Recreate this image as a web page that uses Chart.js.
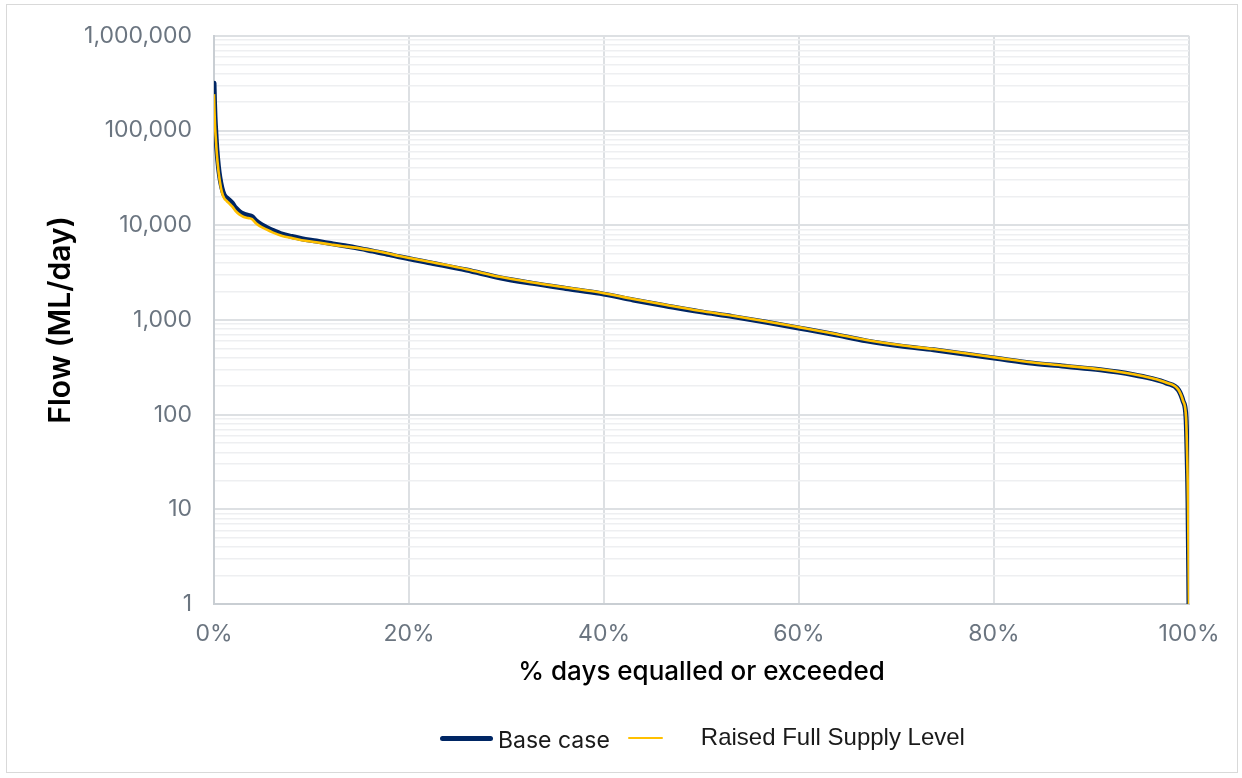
<!DOCTYPE html>
<html>
<head>
<meta charset="utf-8">
<script src="https://cdn.jsdelivr.net/npm/chart.js@4/dist/chart.umd.min.js"></script>
<style>
  html, body { margin: 0; padding: 0; background: #ffffff; }
  #wrap { position: relative; width: 1242px; height: 778px; overflow: hidden; }
  #frame { position: absolute; left: 6px; top: 4px; width: 1232px; height: 769px;
           border: 1.5px solid #d9d9d9; box-sizing: border-box; }
  #chart { position: absolute; left: 0; top: 0; }
  #legend { position: absolute; top: 724px; left: 440px; display: flex; align-items: center;
            font-family: Inter, "Liberation Sans", sans-serif; color: #1a1a1a; white-space: nowrap; }
  .item { display: flex; align-items: center; }
  .swatch { border-radius: 3px; }
</style>
</head>
<body>
<div id="wrap">
  <div id="frame"></div>
  <canvas id="chart" width="1242" height="778"></canvas>
  <div id="legend"></div>
</div>
<script>
// Flow duration curve: % of days a flow is equalled or exceeded
const pctDays = [0, 0.05, 0.1, 0.2, 0.3, 0.45, 0.6, 0.8, 1.05, 1.3, 1.6, 1.9, 2.2, 2.6, 3.0, 3.5, 3.9, 4.3, 4.7, 5.3,
  6.0, 7.0, 8.0, 9.0, 10.5, 12.0, 13.2, 14.5, 16.3, 18.0, 19.0, 22.5, 25.9, 29.3, 32.7, 36.1, 39.6, 43.0, 46.4, 49.8,
  53.2, 56.7, 60.1, 63.5, 66.9, 70.3, 73.8, 77.2, 80.6, 84.0, 87.5, 90.9, 94.3, 96.0, 97.7, 98.9, 99.4, 99.7, 99.8, 99.9, 100];

const baseCase = [316000, 200000, 140000, 90000, 62000, 42000, 32000, 25000, 20800, 19500, 18300, 17000, 15300, 14000, 13200,
  12700, 12300, 11200, 10400, 9600, 8860, 8050, 7600, 7200, 6800, 6400, 6100, 5800, 5320, 4900, 4640, 3945, 3360, 2790,
  2430, 2150, 1905, 1625, 1405, 1222, 1083, 944, 817, 705, 601, 532, 483, 434, 388, 349, 322, 297, 264, 243, 215, 183,
  138, 92, 41, 12, 1];

const raisedFSL = [242000, 160000, 115000, 78000, 55000, 38000, 29000, 22500, 19200, 18000, 16800, 15600, 14200, 13000, 12300,
  11900, 11600, 10500, 9800, 9100, 8400, 7700, 7300, 6950, 6600, 6250, 6000, 5800, 5400, 4990, 4730, 4030, 3430, 2850,
  2480, 2195, 1945, 1660, 1435, 1248, 1105, 963, 834, 720, 614, 543, 492, 442, 395, 355, 327, 301, 267, 245, 217, 184,
  139, 93, 41, 12, 1];

const seriesNames = ['Base case', 'Raised Full Supply Level'];
const yTickValues = [1, 10, 100, 1000, 10000, 100000, 1000000];
const xTickValues = [0, 20, 40, 60, 80, 100];

const NAVY = '#002664';
const GOLD = '#FFC000';
const TICK_GREY = '#6b7580';

const toPoints = vals => pctDays.map((x, i) => ({ x: x, y: vals[i] }));

// log grid: a line at every 1..9 multiple of each decade, labels only on the decades
function logGridTicks() {
  const ticks = [];
  for (let d = 0; d < yTickValues.length; d++) {
    const p = yTickValues[d];
    ticks.push({ value: p, major: true });
    if (d < yTickValues.length - 1) {
      for (let m = 2; m <= 9; m++) ticks.push({ value: m * p, major: false });
    }
  }
  return ticks;
}

const chart = new Chart(document.getElementById('chart'), {
  type: 'line',
  data: {
    datasets: [
      { label: seriesNames[0], data: toPoints(baseCase), borderColor: NAVY, borderWidth: 5,
        pointRadius: 0, cubicInterpolationMode: 'monotone', order: 2, borderJoinStyle: 'round', borderCapStyle: 'round' },
      { label: seriesNames[1], data: toPoints(raisedFSL), borderColor: GOLD, borderWidth: 2.6,
        pointRadius: 0, cubicInterpolationMode: 'monotone', order: 1, borderJoinStyle: 'round' }
    ]
  },
  options: {
    responsive: false,
    animation: false,
    devicePixelRatio: 1,
    layout: { padding: { left: 0, right: 53, top: 33, bottom: 78 } },
    plugins: { legend: { display: false }, tooltip: { enabled: false } },
    scales: {
      x: {
        type: 'linear', min: 0, max: 100,
        afterBuildTicks: s => { s.ticks = xTickValues.map(v => ({ value: v })); },
        afterFit: s => { s.height = 96; },
        ticks: { callback: v => v + '%', color: TICK_GREY, padding: 16,
                 font: { family: 'Inter', size: 23 } },
        grid: { color: '#dde0e3', lineWidth: 2, drawTicks: false },
        border: { color: '#c9ced3', width: 2 },
        title: { display: true, text: '% days equalled or exceeded', color: '#000000',
                 font: { family: 'Inter', size: 26, weight: '500' }, padding: { top: 0, bottom: 12 } }
      },
      y: {
        type: 'logarithmic', min: 1, max: 1000000,
        afterBuildTicks: s => { s.ticks = logGridTicks(); },
        afterFit: s => { s.width = 214; },
        ticks: {
          autoSkip: false, color: TICK_GREY, padding: 22, font: { family: 'Inter', size: 23 },
          callback: function (v, i, t) { return t[i].major ? Number(v).toLocaleString('en-AU') : ''; }
        },
        grid: {
          drawTicks: false,
          color: c => (c.tick && c.tick.major) ? '#dde0e3' : '#eeeff1',
          lineWidth: c => (c.tick && c.tick.major) ? 2 : 1.5
        },
        border: { color: '#c9ced3', width: 2 },
        title: { display: true, text: 'Flow (ML/day)', color: '#000000',
                 font: { family: 'Inter', size: 30, weight: '600' }, padding: { top: 43, bottom: 0 } }
      }
    }
  }
});

// legend built from the chart's datasets
const legendEl = document.getElementById('legend');
const swatchStyle = [
  { w: 53, h: 5, gapText: 5, font: 'Inter', size: 23, gapAfter: 18, shift: 2 },
  { w: 35, h: 2, gapText: 38, font: 'Liberation Sans', size: 24, gapAfter: 0, shift: -1 }
];
chart.data.datasets.forEach((ds, i) => {
  const st = swatchStyle[i];
  const item = document.createElement('div');
  item.className = 'item';
  item.style.marginRight = st.gapAfter + 'px';
  const sw = document.createElement('span');
  sw.className = 'swatch';
  sw.style.cssText = `display:inline-block;width:${st.w}px;height:${st.h}px;background:${ds.borderColor};margin-right:${st.gapText}px;`;
  const tx = document.createElement('span');
  tx.textContent = ds.label;
  tx.style.fontFamily = st.font;
  tx.style.fontSize = st.size + 'px';
  tx.style.position = 'relative';
  tx.style.top = st.shift + 'px';
  item.appendChild(sw);
  item.appendChild(tx);
  legendEl.appendChild(item);
});
</script>
</body>
</html>
